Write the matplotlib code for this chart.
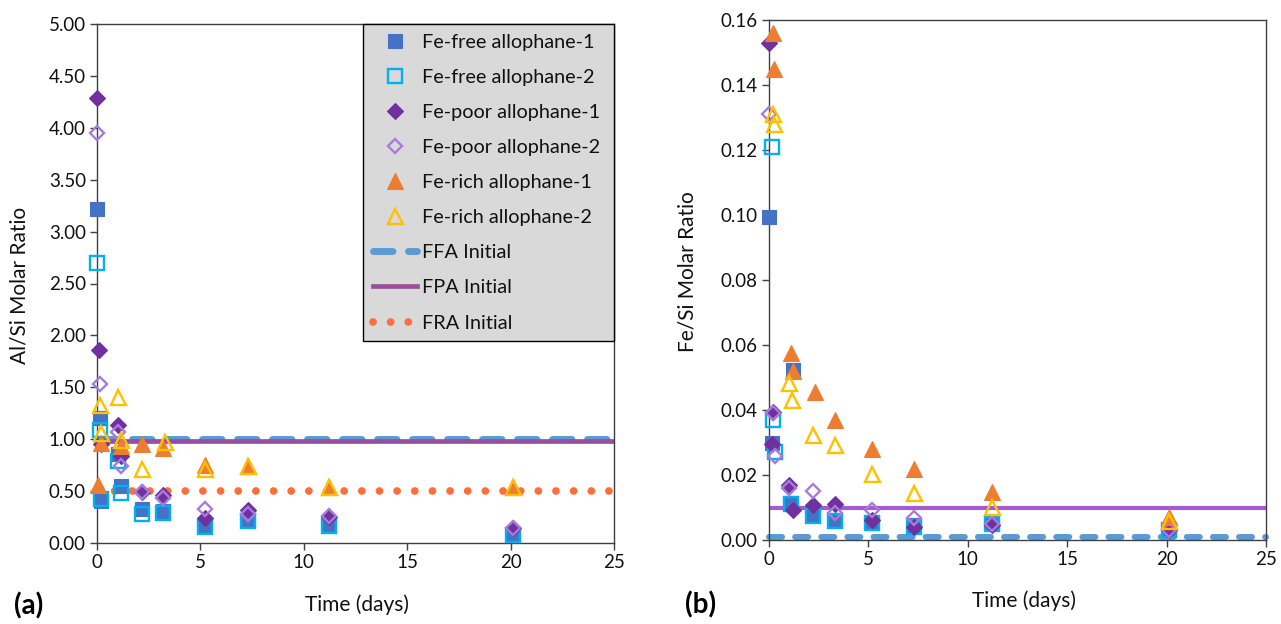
import matplotlib
matplotlib.use("Agg")
import matplotlib.pyplot as plt
from matplotlib.ticker import FormatStrFormatter, MultipleLocator

plt.rcParams['font.family'] = ['Lato', 'DejaVu Sans']
plt.rcParams['lines.scale_dashes'] = False

# ---------------- data ----------------
series_labels = ["Fe-free allophane-1", "Fe-free allophane-2",
                 "Fe-poor allophane-1", "Fe-poor allophane-2",
                 "Fe-rich allophane-1", "Fe-rich allophane-2"]
line_labels = ["FFA Initial", "FPA Initial", "FRA Initial"]

# Al/Si molar ratio vs time (days)
t_ff1_a = [0.0, 0.15, 0.2, 1.0, 1.15, 2.2, 3.2, 5.2, 7.3, 11.2, 20.1]
alsi_ff1 = [3.22, 1.20, 0.40, 0.86, 0.55, 0.33, 0.31, 0.17, 0.22, 0.17, 0.08]
t_ff2_a = [0.0, 0.15, 0.2, 1.0, 1.15, 2.2, 3.2, 5.2, 7.3, 11.2, 20.1]
alsi_ff2 = [2.70, 1.09, 0.42, 0.79, 0.48, 0.28, 0.29, 0.15, 0.21, 0.16, 0.08]
t_fp1_a = [0.0, 0.1, 0.2, 1.0, 1.15, 2.2, 3.2, 5.2, 7.3, 11.2, 20.1]
alsi_fp1 = [4.29, 1.86, 0.95, 1.14, 0.84, 0.49, 0.46, 0.24, 0.32, 0.25, 0.14]
t_fp2_a = [0.0, 0.15, 1.0, 1.15, 2.2, 3.2, 5.2, 7.3, 11.2, 20.1]
alsi_fp2 = [3.95, 1.53, 1.07, 0.74, 0.49, 0.43, 0.33, 0.28, 0.26, 0.14]
t_fr1_a = [0.05, 0.2, 1.15, 2.2, 3.2, 5.2, 7.3, 11.2, 20.1]
alsi_fr1 = [0.56, 0.96, 0.93, 0.95, 0.92, 0.75, 0.74, 0.54, 0.54]
t_fr2_a = [0.15, 0.2, 1.0, 1.15, 2.2, 3.3, 5.2, 7.3, 11.2, 20.1]
alsi_fr2 = [1.33, 1.06, 1.41, 0.99, 0.71, 0.97, 0.71, 0.74, 0.54, 0.54]

# Fe/Si molar ratio vs time (days)
t_ff1_b = [0.0, 0.15, 1.1, 1.2, 2.2, 3.3, 5.2, 7.3, 11.2, 20.1]
fesi_ff1 = [0.0995, 0.0300, 0.0115, 0.0523, 0.0080, 0.0062, 0.0053, 0.0045, 0.0051, 0.0030]
t_ff2_b = [0.15, 0.2, 0.3, 1.1, 2.2, 3.3, 5.2, 7.3, 11.2, 20.1]
fesi_ff2 = [0.121, 0.037, 0.0272, 0.0110, 0.0075, 0.0060, 0.0052, 0.0040, 0.0050, 0.0030]
t_fp1_b = [0.0, 0.15, 0.2, 1.0, 1.2, 2.2, 3.3, 5.2, 7.3, 11.2, 20.1]
fesi_fp1 = [0.153, 0.0296, 0.0395, 0.0169, 0.0092, 0.0108, 0.0110, 0.0062, 0.0041, 0.0046, 0.0030]
t_fp2_b = [0.0, 0.2, 0.3, 1.0, 2.2, 3.3, 5.2, 7.3, 11.2, 20.1]
fesi_fp2 = [0.131, 0.0390, 0.0258, 0.0160, 0.0152, 0.0083, 0.0092, 0.0067, 0.0050, 0.0030]
t_fr1_b = [0.2, 0.25, 1.1, 1.2, 2.3, 3.3, 5.2, 7.3, 11.2, 20.1]
fesi_fr1 = [0.156, 0.145, 0.0574, 0.0520, 0.0456, 0.0369, 0.0280, 0.0220, 0.0149, 0.0070]
t_fr2_b = [0.2, 0.25, 1.0, 1.15, 2.2, 3.3, 5.2, 7.3, 11.2, 20.1]
fesi_fr2 = [0.131, 0.128, 0.0482, 0.0430, 0.0323, 0.0292, 0.0202, 0.0144, 0.0103, 0.0060]

# initial (pre-dissolution) ratios, drawn as horizontal references
line_span = [0, 25]
alsi_initial = [1.00, 0.98, 0.50]      # FFA, FPA, FRA
fesi_initial = [0.001, 0.010]          # FFA, FPA

x_ticks = [0, 5, 10, 15, 20, 25]

# ---------------- styles ----------------
C_FF1, C_FF2 = "#4472C4", "#00B0F0"
C_FP1, C_FP2 = "#7030A0", "#A87BDB"
C_FR1, C_FR2 = "#ED7D31", "#FFC000"
C_FFA, C_FPA_A, C_FPA_B, C_FRA = "#5B9BD5", "#9A4F9E", "#A35BD1", "#FF6E3C"

styles = [
    dict(marker='s', ms=10.0, mfc=C_FF1, mec=C_FF1, mew=0.8),
    dict(marker='s', ms=9.4, mfc='none', mec=C_FF2, mew=1.7),
    dict(marker='D', ms=7.8, mfc=C_FP1, mec=C_FP1, mew=0.8),
    dict(marker='D', ms=7.3, mfc='none', mec=C_FP2, mew=1.7),
    dict(marker='^', ms=11.5, mfc=C_FR1, mec=C_FR1, mew=0.8),
    dict(marker='^', ms=10.8, mfc='none', mec=C_FR2, mew=1.7),
]

W, H = 1281, 624
fig = plt.figure(figsize=(W / 100, H / 100), dpi=100)
ax1 = fig.add_axes([97 / W, 1 - 543 / H, (614 - 97) / W, (543 - 24) / H])
ax2 = fig.add_axes([769 / W, 1 - 540 / H, (1266 - 769) / W, (540 - 20) / H])

TXT = "#111111"
SP = "#404040"


def style_axes(ax, ymax, ystep):
    ax.set_xlim(0, 25)
    ax.set_ylim(0, ymax)
    ax.set_xticks(x_ticks)
    ax.yaxis.set_major_locator(MultipleLocator(ystep))
    ax.yaxis.set_major_formatter(FormatStrFormatter('%.2f'))
    for s in ax.spines.values():
        s.set_color(SP)
        s.set_linewidth(1.0)
    ax.tick_params(direction='out', length=5, width=1, color=SP,
                   labelsize=13.5, labelcolor=TXT, pad=3)


# panel (a)
h_ffa, = ax1.plot(line_span, [alsi_initial[0]] * 2, color=C_FFA, lw=5.0,
                  solid_capstyle='round', dash_capstyle='round',
                  linestyle=(0, (14.0, 11.2)), zorder=2)
h_fpa, = ax1.plot(line_span, [alsi_initial[1]] * 2, color=C_FPA_A, lw=3.4, zorder=2.1)
h_fra, = ax1.plot(line_span, [alsi_initial[2]] * 2, color=C_FRA, lw=5.6,
                  dash_capstyle='round', linestyle=(0, (0.01, 12.7)), zorder=2)

data_a = [(t_ff1_a, alsi_ff1), (t_ff2_a, alsi_ff2), (t_fp1_a, alsi_fp1),
          (t_fp2_a, alsi_fp2), (t_fr1_a, alsi_fr1), (t_fr2_a, alsi_fr2)]
handles = []
for (t, v), st, lab in zip(data_a, styles, series_labels):
    h, = ax1.plot(t, v, linestyle='none', clip_on=False, zorder=3, label=lab, **st)
    handles.append(h)

style_axes(ax1, 5.0, 0.5)

# legend box spans the upper-right part of panel (a)
leg_x0 = (363 - 97) / (614 - 97)
leg = ax1.legend(handles + [h_ffa, h_fpa, h_fra], series_labels + line_labels,
                 loc='upper left', bbox_to_anchor=(leg_x0, 0.0, 1.0 - leg_x0, 1.0),
                 mode='expand', borderaxespad=0,
                 fontsize=14.3, labelspacing=0.91, handlelength=2.2,
                 handletextpad=0.25, borderpad=0.5, fancybox=False,
                 framealpha=1, facecolor='#D9D9D9', edgecolor='#000000')
leg.get_frame().set_linewidth(1.0)
leg.set_zorder(5)
for txt in leg.get_texts():
    txt.set_color(TXT)

# panel (b)
ax2.plot(line_span, [fesi_initial[0]] * 2, color=C_FFA, lw=4.3,
         dash_capstyle='round', linestyle=(0, (9.4, 9.4)), zorder=2, clip_on=False)
ax2.plot(line_span, [fesi_initial[1]] * 2, color=C_FPA_B, lw=3.0, zorder=2.1)

data_b = [(t_ff1_b, fesi_ff1), (t_ff2_b, fesi_ff2), (t_fp1_b, fesi_fp1),
          (t_fp2_b, fesi_fp2), (t_fr1_b, fesi_fr1), (t_fr2_b, fesi_fr2)]
for (t, v), st in zip(data_b, styles):
    ax2.plot(t, v, linestyle='none', clip_on=False, zorder=3, **st)

style_axes(ax2, 0.16, 0.02)

# axis titles and panel letters
fig.text(20 / W, 1 - 285 / H, "Al/Si Molar Ratio", rotation=90, ha='center',
         va='center', fontsize=15, color=TXT)
fig.text(357 / W, 1 - 605 / H, "Time (days)", ha='center', va='center',
         fontsize=15, color=TXT)
fig.text(688 / W, 1 - 272 / H, "Fe/Si Molar Ratio", rotation=90, ha='center',
         va='center', fontsize=15, color=TXT)
fig.text(1024 / W, 1 - 601 / H, "Time (days)", ha='center', va='center',
         fontsize=15, color=TXT)
fig.text(29 / W, 1 - 606 / H, "(a)", ha='center', va='center',
         fontsize=20, fontweight='bold', color='#000000')
fig.text(701 / W, 1 - 605 / H, "(b)", ha='center', va='center',
         fontsize=20, fontweight='bold', color='#000000')

fig.savefig("out.png", dpi=100, facecolor='white')
